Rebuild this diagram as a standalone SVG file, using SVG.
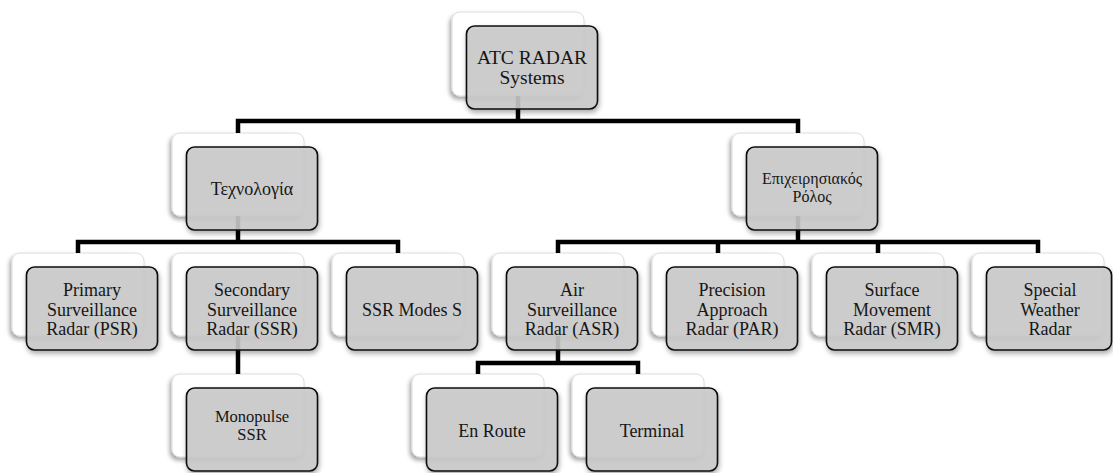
<svg xmlns="http://www.w3.org/2000/svg" width="1113" height="473" viewBox="0 0 1113 473">
<defs>
<filter id="sb" x="-20%" y="-20%" width="140%" height="150%"><feDropShadow dx="-2" dy="3" stdDeviation="2" flood-color="#000" flood-opacity="0.35"/></filter>
<filter id="sf" x="-20%" y="-20%" width="140%" height="150%"><feDropShadow dx="1" dy="3" stdDeviation="2.5" flood-color="#000" flood-opacity="0.35"/></filter>
<style>
.back{fill:#fff;stroke:#dcdcdc;stroke-width:1;filter:url(#sb)}
.front{fill:#cbcbcb;fill-opacity:0.88;stroke:#111;stroke-width:1.6;filter:url(#sf)}
.c{fill:none;stroke:#000;stroke-width:4.5;stroke-linejoin:miter;stroke-linecap:butt}
text{font-family:"Liberation Serif","Times New Roman",serif;fill:#161616;text-anchor:middle}
.t1{font-size:18px}
</style>
</defs>
<rect width="1113" height="473" fill="#fff"/>

<g id="backs">
<rect class="back" x="452" y="12" width="132" height="84" rx="8"/>
<rect class="back" x="172" y="133" width="132" height="83" rx="8"/>
<rect class="back" x="732" y="133" width="132" height="83" rx="8"/>
<rect class="back" x="12" y="253" width="132" height="83" rx="8"/>
<rect class="back" x="172" y="253" width="132" height="83" rx="8"/>
<rect class="back" x="332" y="253" width="132" height="83" rx="8"/>
<rect class="back" x="492" y="253" width="132" height="83" rx="8"/>
<rect class="back" x="652" y="253" width="132" height="83" rx="8"/>
<rect class="back" x="812" y="253" width="132" height="83" rx="8"/>
<rect class="back" x="972" y="253" width="132" height="83" rx="8"/>
<rect class="back" x="172" y="374" width="132" height="83" rx="8"/>
<rect class="back" x="412" y="374" width="132" height="83" rx="8"/>
<rect class="back" x="572" y="374" width="132" height="83" rx="8"/>
</g>

<g id="connectors">
<path class="c" d="M518,96 V121"/>
<path class="c" d="M238,133 V121 H798 V133"/>
<path class="c" d="M238,216 V242"/>
<path class="c" d="M78,253 V242 H398 V253"/>
<path class="c" d="M798,216 V242"/>
<path class="c" d="M558,253 V242 H1038 V253"/>
<path class="c" d="M718,242 V253"/>
<path class="c" d="M878,242 V253"/>
<path class="c" d="M238,336 V374"/>
<path class="c" d="M558,336 V363"/>
<path class="c" d="M478,374 V363 H638 V374"/>
</g>

<g id="n-atc">
<rect class="front" x="466.5" y="26" width="131" height="83" rx="8"/>
<text x="532" y="64" font-size="19.5">ATC RADAR</text>
<text x="532" y="84" font-size="19.5">Systems</text>
</g>
<g id="n-tech">
<rect class="front" x="186.5" y="147" width="131" height="83" rx="8"/>
<text class="t1" x="252" y="195">Τεχνολογία</text>
</g>
<g id="n-op">
<rect class="front" x="746.5" y="147" width="131" height="83" rx="8"/>
<text x="812" y="184" font-size="16">Επιχειρησιακός</text>
<text x="812" y="202" font-size="16">Ρόλος</text>
</g>
<g id="n-psr">
<rect class="front" x="26.5" y="267" width="131" height="83" rx="8"/>
<text class="t1" x="92" y="296">Primary</text>
<text class="t1" x="92" y="315.5">Surveillance</text>
<text class="t1" x="92" y="335">Radar (PSR)</text>
</g>
<g id="n-ssr">
<rect class="front" x="186.5" y="267" width="131" height="83" rx="8"/>
<text class="t1" x="252" y="296">Secondary</text>
<text class="t1" x="252" y="315.5">Surveillance</text>
<text class="t1" x="252" y="335">Radar (SSR)</text>
</g>
<g id="n-ssrs">
<rect class="front" x="346.5" y="267" width="131" height="83" rx="8"/>
<text class="t1" x="412" y="316">SSR Modes S</text>
</g>
<g id="n-asr">
<rect class="front" x="506.5" y="267" width="131" height="83" rx="8"/>
<text class="t1" x="572" y="296">Air</text>
<text class="t1" x="572" y="315.5">Surveillance</text>
<text class="t1" x="572" y="335">Radar (ASR)</text>
</g>
<g id="n-par">
<rect class="front" x="666.5" y="267" width="131" height="83" rx="8"/>
<text class="t1" x="732" y="296">Precision</text>
<text class="t1" x="732" y="315.5">Approach</text>
<text class="t1" x="732" y="335">Radar (PAR)</text>
</g>
<g id="n-smr">
<rect class="front" x="826.5" y="267" width="131" height="83" rx="8"/>
<text class="t1" x="892" y="296">Surface</text>
<text class="t1" x="892" y="315.5">Movement</text>
<text class="t1" x="892" y="335">Radar (SMR)</text>
</g>
<g id="n-swr">
<rect class="front" x="986.5" y="267" width="125" height="83" rx="8"/>
<text class="t1" x="1050" y="296">Special</text>
<text class="t1" x="1050" y="315.5">Weather</text>
<text class="t1" x="1050" y="335">Radar</text>
</g>
<g id="n-mono">
<rect class="front" x="186.5" y="388" width="131" height="83" rx="8"/>
<text x="252" y="422" font-size="16.5">Monopulse</text>
<text x="252" y="440" font-size="16.5">SSR</text>
</g>
<g id="n-enroute">
<rect class="front" x="426.5" y="388" width="131" height="83" rx="8"/>
<text x="492" y="437" font-size="18">En Route</text>
</g>
<g id="n-terminal">
<rect class="front" x="586.5" y="388" width="131" height="83" rx="8"/>
<text x="652" y="437" font-size="18">Terminal</text>
</g>
</svg>
